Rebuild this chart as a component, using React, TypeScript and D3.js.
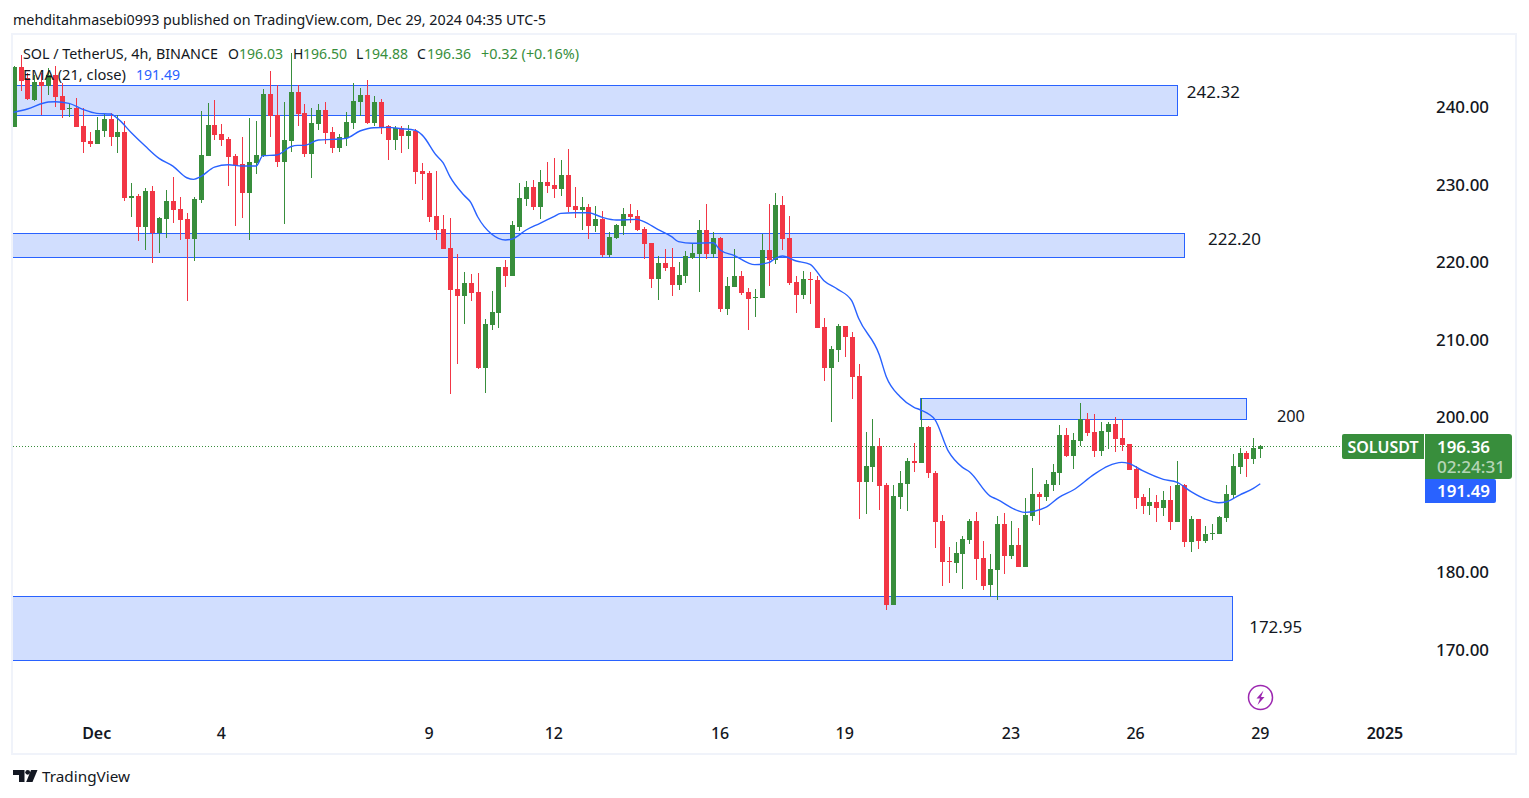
import React from "react";
import * as d3 from "d3";

const opens = [
237.6,245.24,243.82,241.03,243.39,242.88,244.25,241.54,239.95,239.98,
237.67,235.74,235.35,237.07,238.58,236.25,236.9,228.43,228.64,224.64,
229.29,223.82,225.67,228.0,226.96,225.67,223.09,228.13,233.8,237.8,
236.64,236.0,233.8,232.77,229.03,232.9,233.8,241.8,239.09,233.03,
235.74,242.06,239.35,234.06,237.93,239.74,236.9,234.83,236.12,238.06,
240.77,241.67,238.06,240.77,237.67,235.87,237.42,236.38,237.03,231.87,
231.61,226.06,224.39,221.93,216.65,215.74,217.42,216.26,206.45,212.0,
213.55,219.48,218.32,224.64,228.26,229.81,227.23,230.45,230.06,229.55,
231.35,227.35,226.84,227.23,224.77,225.68,221.03,223.23,224.77,226.32,
226.06,224.39,222.58,217.94,220.0,219.48,217.16,218.32,220.65,221.16,
224.26,221.16,223.23,214.07,216.9,218.32,216.26,215.53,215.48,221.68,
220.39,227.48,223.23,217.55,215.87,217.94,217.81,211.74,206.45,208.77,
211.87,210.45,205.42,191.74,193.68,196.38,191.35,175.87,189.8,191.48,
194.45,194.19,198.84,192.9,186.71,181.55,181.29,182.45,184.26,186.71,
181.93,178.45,180.39,186.32,182.19,183.61,180.77,187.35,190.19,189.8,
191.35,192.9,197.8,195.09,197.03,199.87,198.19,195.74,198.19,199.22,
197.42,196.64,193.42,189.8,188.64,189.16,188.39,189.42,186.58,191.35,
183.99,186.97,184.13,185.07,185.03,187.1,190.06,193.68,195.48,194.71,
196.03];

const closes = [
245.3,243.52,241.11,243.31,242.88,244.25,241.46,239.74,240.04,237.59,
235.65,235.31,237.16,238.58,236.3,236.9,228.43,228.64,224.64,229.29,
223.82,225.8,228.0,226.84,225.55,223.09,228.25,233.93,237.8,236.5,
235.87,233.67,232.64,229.03,233.03,233.93,241.8,238.96,233.03,235.87,
242.06,239.22,234.06,238.06,239.74,236.77,234.83,236.25,238.19,240.9,
241.67,238.06,240.77,237.42,235.87,237.42,236.38,237.03,231.74,231.48,
225.93,224.26,221.81,216.52,215.74,217.42,216.13,206.45,212.13,213.68,
219.48,218.32,224.9,228.39,229.81,227.23,230.45,229.93,229.55,231.35,
227.23,226.84,227.23,224.77,225.68,221.03,223.35,224.9,226.32,225.94,
224.26,222.45,217.94,220.0,219.35,217.16,218.45,220.9,221.29,224.26,
221.16,223.23,214.07,217.03,218.32,216.13,215.35,215.61,221.68,220.39,
227.48,223.1,217.42,215.87,217.94,217.81,211.61,206.45,208.9,211.87,
210.45,205.29,191.74,193.8,196.38,191.22,175.87,189.93,191.61,194.45,
194.19,198.84,192.9,186.58,181.42,181.42,182.58,184.39,186.71,181.81,
178.32,180.52,186.32,182.19,183.61,180.77,187.48,190.19,189.8,191.48,
193.03,197.8,195.09,197.16,199.87,198.06,195.74,198.32,199.22,197.29,
196.51,193.29,189.68,188.64,189.16,188.39,189.42,186.58,191.35,183.99,
186.97,184.13,185.03,185.16,187.22,190.19,193.8,195.48,194.71,196.13,
196.36];

const highs = [
245.4,246.84,244.47,244.25,244.47,245.11,245.42,243.18,240.68,241.24,
239.95,236.9,238.79,239.22,239.39,239.09,238.32,230.28,228.86,229.67,
229.93,225.93,229.42,231.09,228.47,226.45,228.51,239.61,240.64,241.03,
237.93,236.21,234.06,236.25,238.71,238.32,242.4,244.77,242.96,240.77,
247.09,242.96,240.51,239.98,240.51,240.77,237.54,236.64,239.48,243.22,
242.58,243.61,241.54,241.16,237.8,237.67,237.67,237.8,237.29,232.9,
231.87,231.87,226.19,225.81,221.16,218.84,218.58,218.71,212.77,216.39,
219.48,220.39,225.42,230.32,230.58,230.71,232.0,233.03,233.55,233.29,
234.71,229.81,228.52,227.61,227.35,226.71,224.0,225.03,227.1,227.61,
226.84,224.64,222.58,220.9,221.81,221.94,220.13,221.55,222.58,225.55,
227.61,224.0,223.35,218.19,221.81,218.97,216.77,216.65,223.74,227.61,
229.03,228.65,226.06,218.32,218.97,218.84,218.32,212.9,209.29,212.13,
211.87,211.1,206.97,198.2,199.87,197.42,191.61,191.35,193.16,194.84,
196.77,202.53,198.97,193.16,187.48,183.35,184.0,184.77,186.97,187.87,
184.13,182.45,187.35,187.74,186.71,185.81,189.68,193.55,190.45,192.0,
194.06,199.1,198.71,198.06,201.93,200.64,200.51,199.48,199.48,200.13,
199.87,196.64,193.8,190.19,190.97,190.06,190.58,191.22,194.45,191.48,
187.35,186.97,186.06,186.32,187.35,191.35,195.35,196.13,195.74,197.42,
196.5];

const lows = [
237.6,242.23,241.03,240.94,239.09,241.67,240.17,238.75,238.88,237.59,
234.23,234.92,235.35,236.3,235.09,234.23,228.04,225.97,222.84,221.67,
220.0,221.29,223.22,225.16,222.96,215.09,220.25,227.74,233.8,235.87,
235.09,229.93,224.77,225.8,222.96,231.48,233.72,236.25,232.38,225.03,
234.32,237.67,233.67,230.96,237.16,235.35,234.19,234.32,235.09,237.29,
238.96,237.93,237.67,236.64,233.29,234.58,234.19,234.71,230.19,228.13,
225.29,222.97,221.81,203.09,206.97,212.13,215.1,206.32,203.23,211.35,
211.62,216.9,218.32,224.13,227.35,226.84,225.68,229.03,228.39,228.64,
226.58,225.81,224.26,223.1,224.0,220.77,220.77,223.1,223.61,225.16,
224.13,220.52,216.77,215.23,218.97,215.74,216.52,217.42,220.52,216.26,
220.52,220.65,213.68,213.29,216.9,215.87,211.35,213.03,215.48,217.03,
219.87,221.68,217.16,213.55,215.35,214.71,211.61,204.77,199.48,207.23,
207.87,202.45,186.97,187.61,191.74,188.13,175.22,175.87,188.26,188.0,
193.03,194.19,192.26,183.22,178.32,178.71,180.0,177.93,183.74,179.09,
177.8,176.9,176.52,179.87,181.81,180.77,180.77,186.71,186.19,189.29,
190.58,191.35,194.96,193.42,196.38,197.68,194.96,195.09,195.99,195.61,
195.74,193.29,188.26,187.61,187.48,186.58,187.35,185.55,186.58,183.35,
182.71,183.1,183.87,184.26,185.03,186.58,189.55,192.77,192.38,194.06,
194.88];

const emaIndex = [0,2,5,6,8,10,12,14,15,17,19,21,23,25,26,27,29,31,33,35,36,38,40,41,42,44,46,48,50,52,54,56,58,59,61,62,63,65,66,67,69,70,71,72,74,76,78,79,81,83,85,87,90,91,93,95,96,98,101,102,104,107,109,110,111,113,115,117,119,121,122,125,126,128,130,131,133,135,137,138,141,142,145,146,149,151,153,156,158,160,161,163,166,168,170,172,174,175,177,179,180];
const emaValues = [239.44,239.87,240.77,240.81,240.6,239.82,239.31,239.22,238.66,236.81,235.09,233.5,232.5,231.0,230.79,231.13,232.38,232.68,232.51,232.51,233.85,233.93,235.0,235.18,235.18,235.87,235.95,236.08,237.03,237.46,237.5,237.33,237.11,236.5,233.93,232.94,231.14,228.77,227.82,225.97,223.74,223.19,222.97,223.1,224.26,225.12,225.98,226.41,226.49,226.49,225.89,225.55,225.63,225.33,224.34,223.4,222.75,222.54,222.62,221.68,220.99,219.79,220.04,220.6,220.9,220.26,219.83,217.72,216.6,215.14,212.86,208.13,205.33,202.75,201.38,201.03,199.83,195.65,193.63,193.07,189.93,189.5,188.04,187.82,188.47,189.8,190.71,192.73,193.8,194.28,194.15,193.2,192.08,191.7,190.49,189.55,189.07,189.16,190.06,190.92,191.52];

const priceTicks = [240, 230, 220, 210, 200, 180, 170];
const timeTickIndex = [12, 30, 60, 78, 102, 120, 144, 162, 180, 198];
const timeTickLabels = ["Dec", "4", "9", "12", "16", "19", "23", "26", "29", "2025"];
const boldTimeLabels = ["Dec", "2025"];

const zoneTop = [242.97, 223.87, 202.58, 177.03];
const zoneBottom = [239.1, 220.77, 199.87, 168.77];
const zoneStart = [-1, -1, 130.8, -1];
const zoneEnd = [167.9, 168.9, 177.9, 175.9];
const zoneLabels = ["242.32", "222.20", "200", "172.95"];
const zoneLabelWidth = [53, 53, 28, 53];
const zoneLabelPrice = [242.05, 223.05, 200.22, 173.03];
const zoneLabelIndex = [169.4, 172.45, 182.4, 178.4];

const lastPrice = 196.36;
const emaLast = 191.49;

const UP = "#388e3c";
const DOWN = "#f23645";
const BLUE = "#2962ff";
const INK = "#131722";
const FONT = "'Noto Sans', 'Open Sans', sans-serif";

const x = d3.scaleLinear().domain([0, 180]).range([13.6, 1260.3]);
const y = d3.scaleLinear().domain([240, 170]).range([108, 650.5]);

export default function App() {
  React.useEffect(() => {
    document.body.style.margin = "0";
    document.body.style.background = "#fff";
  }, []);

  const ema = d3
    .line<number>()
    .x((_, i) => x(emaIndex[i]))
    .y((d) => y(d))
    .curve(d3.curveMonotoneX)(emaValues) as string;

  return (
    <svg width={1529} height={798} style={{ display: "block", fontFamily: FONT }}>
      <rect width={1529} height={798} fill="#fff" />
      <text x={13} y={25} fontSize={14} fill={INK} textLength={533} lengthAdjust="spacingAndGlyphs">
        mehditahmasebi0993 published on TradingView.com, Dec 29, 2024 04:35 UTC-5
      </text>
      <rect x={12} y={34} width={1504} height={720} fill="none" stroke="#f0f3fa" strokeWidth={2} />

      <defs>
        <clipPath id="pane">
          <rect x={13} y={35} width={1410} height={718} />
        </clipPath>
      </defs>

      <g clipPath="url(#pane)">
        {zoneTop.map((t, i) => (
          <rect
            key={i}
            x={Math.round(x(zoneStart[i])) + 0.5}
            y={Math.round(y(t)) + 0.5}
            width={Math.round(x(zoneEnd[i]) - x(zoneStart[i]))}
            height={Math.round(y(zoneBottom[i]) - y(t))}
            fill="#d1defe"
            stroke={BLUE}
            strokeWidth={1}
          />
        ))}
        <line
          x1={13}
          x2={1342}
          y1={Math.floor(y(lastPrice)) + 0.5}
          y2={Math.floor(y(lastPrice)) + 0.5}
          stroke={UP}
          strokeWidth={1}
          strokeDasharray="1 2"
          shapeRendering="crispEdges"
        />
        {opens.map((o, i) => {
          const c = closes[i];
          const col = c >= o ? UP : DOWN;
          const cx = Math.round(x(i));
          const top = Math.round(y(Math.max(o, c)));
          const bot = Math.round(y(Math.min(o, c)));
          return (
            <g key={i}>
              <line x1={cx + 0.5} x2={cx + 0.5} y1={Math.round(y(highs[i]))} y2={Math.round(y(lows[i]))} stroke={col} strokeWidth={1} />
              <rect x={cx - 2} y={top} width={5} height={Math.max(1, bot - top)} fill={col} />
            </g>
          );
        })}
        <path d={ema} fill="none" stroke={BLUE} strokeWidth={1.4} />
      </g>

      {zoneLabels.map((l, i) => (
        <text
          key={l}
          x={x(zoneLabelIndex[i])}
          y={y(zoneLabelPrice[i])}
          fontSize={16}
          fill={INK}
          dominantBaseline="central"
          textLength={zoneLabelWidth[i]}
          lengthAdjust="spacingAndGlyphs"
        >
          {l}
        </text>
      ))}

      {priceTicks.map((p) => (
        <text
          key={p}
          x={1436}
          y={y(p) - 0.6}
          fontSize={16}
          fontWeight={500}
          fill={INK}
          dominantBaseline="central"
          textLength={53}
          lengthAdjust="spacingAndGlyphs"
        >
          {p.toFixed(2)}
        </text>
      ))}

      {timeTickIndex.map((t, i) => (
        <text
          key={t}
          x={x(t)}
          y={733}
          fontSize={16}
          fill={INK}
          textAnchor="middle"
          dominantBaseline="central"
          fontWeight={boldTimeLabels.includes(timeTickLabels[i]) ? 600 : 500}
        >
          {timeTickLabels[i]}
        </text>
      ))}

      <g fontSize={14}>
        <text x={23} y={59} fill={INK} textLength={195} lengthAdjust="spacingAndGlyphs">SOL / TetherUS, 4h, BINANCE</text>
        <text x={228} y={59} fill={INK}>O</text>
        <text x={239} y={59} fill={UP} textLength={44} lengthAdjust="spacingAndGlyphs">196.03</text>
        <text x={293} y={59} fill={INK}>H</text>
        <text x={303} y={59} fill={UP} textLength={44} lengthAdjust="spacingAndGlyphs">196.50</text>
        <text x={356} y={59} fill={INK}>L</text>
        <text x={364} y={59} fill={UP} textLength={44} lengthAdjust="spacingAndGlyphs">194.88</text>
        <text x={417} y={59} fill={INK}>C</text>
        <text x={427} y={59} fill={UP} textLength={44} lengthAdjust="spacingAndGlyphs">196.36</text>
        <text x={481} y={59} fill={UP} textLength={98} lengthAdjust="spacingAndGlyphs">+0.32 (+0.16%)</text>
        <text x={23} y={80} fill={INK} textLength={103} lengthAdjust="spacingAndGlyphs">EMA (21, close)</text>
        <text x={136} y={80} fill={BLUE} textLength={44} lengthAdjust="spacingAndGlyphs">191.49</text>
      </g>

      <path d="M1342 436a2 2 0 0 1 2-2h80v25h-80a2 2 0 0 1-2-2z" fill={UP} />
      <text x={1383} y={447} fontSize={16} fontWeight={600} fill="#fff" textAnchor="middle" dominantBaseline="central">SOLUSDT</text>
      <path d="M1425 434h84a3 3 0 0 1 3 3v39a3 3 0 0 1-3 3h-84z" fill={UP} />
      <text x={1437} y={447} fontSize={16} fontWeight={600} fill="#fff" dominantBaseline="central" textLength={53} lengthAdjust="spacingAndGlyphs">{lastPrice.toFixed(2)}</text>
      <text x={1437} y={467} fontSize={16} fontWeight={500} fill="#fff" fillOpacity={0.65} dominantBaseline="central" textLength={68} lengthAdjust="spacingAndGlyphs">02:24:31</text>
      <path d="M1425 479h69a2 2 0 0 1 2 2v20a2 2 0 0 1-2 2h-69z" fill={BLUE} />
      <text x={1437} y={491} fontSize={16} fontWeight={600} fill="#fff" dominantBaseline="central" textLength={53} lengthAdjust="spacingAndGlyphs">{emaLast.toFixed(2)}</text>

      <circle cx={1260.5} cy={697.5} r={12} fill="none" stroke="#9c27b0" strokeWidth={1.5} />
      <path d="M1263.5 690.5l-7 8h3.5l-2.5 6.5 7-8h-3.5z" fill="#9c27b0" />

      <path d="M13 770h11.5v12h-5.5v-7h-6z" fill={INK} />
      <circle cx={27.7} cy={772.3} r={2.4} fill={INK} />
      <path d="M31 770h6.5l-5 12h-6.3z" fill={INK} />
      <text x={42} y={782} fontSize={15} fill={INK} textLength={88} lengthAdjust="spacingAndGlyphs">TradingView</text>
    </svg>
  );
}
